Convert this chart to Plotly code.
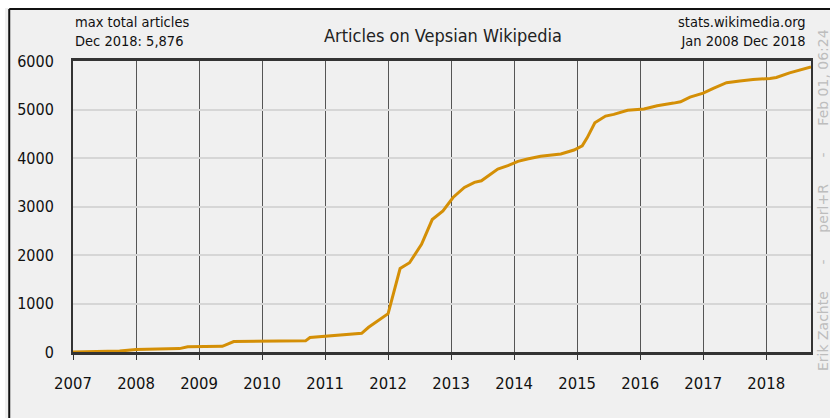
import plotly.graph_objects as go

# positions are fractional years along the chart's x scale
years = [2007.00, 2007.74, 2008.00, 2008.69, 2008.82, 2009.37, 2009.55, 2010.69,
         2010.76, 2011.06, 2011.58, 2011.69, 2012.00, 2012.19, 2012.34, 2012.53,
         2012.70, 2012.87, 2013.03, 2013.21, 2013.37, 2013.48, 2013.58, 2013.74,
         2013.90, 2014.06, 2014.21, 2014.42, 2014.74, 2014.95, 2015.08, 2015.16,
         2015.28, 2015.45, 2015.58, 2015.80, 2016.06, 2016.27, 2016.53, 2016.64,
         2016.79, 2017.00, 2017.16, 2017.37, 2017.58, 2017.79, 2018.06, 2018.16,
         2018.37, 2018.48, 2018.71]
articles = [0, 20, 50, 70, 110, 118, 215, 230,
            300, 333, 385, 510, 790, 1720, 1840, 2221,
            2731, 2910, 3186, 3393, 3497, 3531, 3621, 3772,
            3841, 3931, 3979, 4034, 4083, 4165, 4250, 4420,
            4725, 4865, 4900, 4985, 5012, 5078, 5132, 5159,
            5254, 5336, 5437, 5553, 5586, 5620, 5641, 5661,
            5756, 5797, 5876]

x_ticks = list(range(2007, 2019))
y_ticks = [0, 1000, 2000, 3000, 4000, 5000, 6000]

NARROW = "DejaVu Sans Condensed, sans-serif"
SEP = "\u00a0" * 6 + "-" + "\u00a0" * 6
credit = SEP.join(["Erik Zachte", "perl+R", "Feb 01, 06:24"])

fig = go.Figure()
fig.add_trace(go.Scatter(
    x=years, y=articles, mode='lines',
    line=dict(color='#d48f06', width=3),
    showlegend=False, hoverinfo='skip'
))

# black frame lines along top and left edge of the picture
fig.add_shape(type='line', xref='paper', yref='paper',
              x0=-0.0864, x1=1.05, y0=1.1787, y1=1.1787,
              line=dict(color='#111', width=2))
fig.add_shape(type='line', xref='paper', yref='paper',
              x0=-0.0864, x1=-0.0864, y0=-0.3, y1=1.1787,
              line=dict(color='#111', width=2))

fig.update_layout(
    width=825, height=410,
    margin=dict(l=65, r=19, t=53, b=66),
    paper_bgcolor='#f0f0f0',
    plot_bgcolor='#f0f0f0',
    font=dict(family=NARROW, size=16, color='#111'),
    xaxis=dict(range=[2007, 2018.71], tickvals=x_ticks,
               tickfont=dict(size=16.5),
               showgrid=True, gridcolor='#555', gridwidth=1,
               showline=True, linecolor='#333', linewidth=3, mirror=True,
               ticks='outside', ticklen=5, tickcolor='#333',
               ticklabelstandoff=9, zeroline=False),
    yaxis=dict(range=[0, 6000], tickvals=y_ticks,
               tickfont=dict(size=16),
               showgrid=True, gridcolor='#d6d6d6', gridwidth=2,
               showline=True, linecolor='#333', linewidth=2, mirror=True,
               ticks='', ticklabelstandoff=14, zeroline=False),
    annotations=[
        dict(text='Articles on Vepsian Wikipedia', xref='paper', yref='paper',
             x=0.5013, y=1.086, xanchor='center', yanchor='middle', showarrow=False,
             font=dict(family=NARROW, size=18, color='#222')),
        dict(text='max total articles<br>Dec 2018: 5,876', xref='paper', yref='paper',
             x=0.0, y=1.0997, xanchor='left', yanchor='middle', align='left', showarrow=False,
             font=dict(family=NARROW, size=14.5, color='#111')),
        dict(text='stats.wikimedia.org<br>Jan 2008 Dec 2018', xref='paper', yref='paper',
             x=0.996, y=1.0997, xanchor='right', yanchor='middle', align='right', showarrow=False,
             font=dict(family=NARROW, size=14.5, color='#111')),
        dict(text=credit, xref='paper', yref='paper',
             x=1.0162, y=0.522, xanchor='center', yanchor='middle', textangle=-90,
             showarrow=False, font=dict(family='DejaVu Sans', size=14, color='#bdbdbd')),
    ],
)

# page sits 8px from the top and 5px from the left, as in the screenshot
fig.write_html("out.html",
               post_script="document.body.style.margin='8px 0 0 5px';"
                           "document.body.style.overflow='hidden';")
